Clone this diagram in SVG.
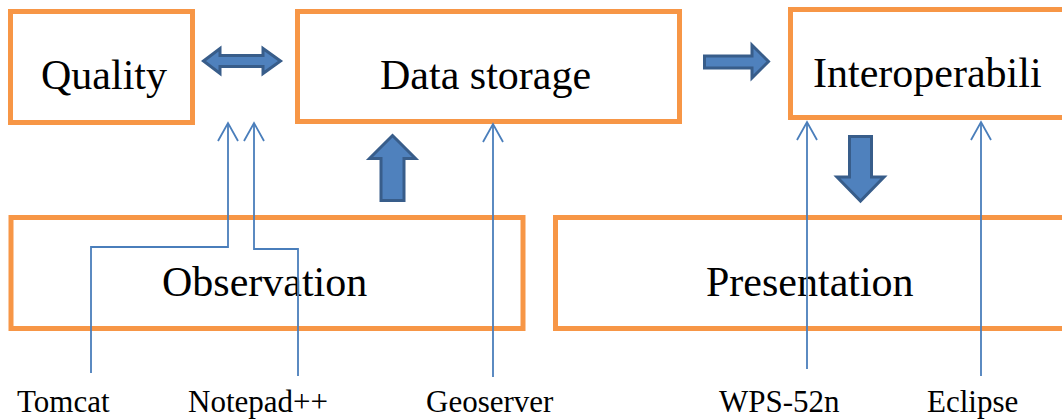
<svg xmlns="http://www.w3.org/2000/svg" width="1062" height="419" viewBox="0 0 1062 419">
  <style>
    .box { fill: #ffffff; stroke: #f79646; stroke-width: 5; }
    .label { font-family: 'Liberation Serif', 'Times New Roman', Times, 'DejaVu Serif', serif; font-size: 42px; fill: #000000; }
    .tool { font-family: 'Liberation Serif', 'Times New Roman', Times, 'DejaVu Serif', serif; font-size: 31px; fill: #000000; }
    .block { fill: #4f81bd; stroke: #385d8a; stroke-width: 3; stroke-linejoin: miter; }
    .link { fill: none; stroke: #4a7ebb; stroke-width: 1.8; }
  </style>
  <defs>
    <marker id="openArrow" markerUnits="userSpaceOnUse" markerWidth="22" markerHeight="24" viewBox="-20 -12 22 24" refX="0" refY="0" orient="auto" overflow="visible">
      <path d="M-18,-10 L0,0 L-18,10" fill="none" stroke="#4a7ebb" stroke-width="1.8"/>
    </marker>
  </defs>

  <rect width="1062" height="419" fill="#ffffff"/>

  <g id="quality">
    <rect class="box" x="10.5" y="11.5" width="182" height="111"/>
    <text class="label" x="41" y="89">Quality</text>
  </g>

  <g id="data-storage">
    <rect class="box" x="297.5" y="11.5" width="382" height="110"/>
    <text class="label" x="380" y="89">Data storage</text>
  </g>

  <g id="interoperability">
    <rect class="box" x="790.5" y="9.5" width="300" height="108"/>
    <text class="label" x="813" y="87">Interoperabili</text>
  </g>

  <g id="observation">
    <rect class="box" x="11" y="217.5" width="512" height="111"/>
    <text class="label" x="162" y="296">Observation</text>
  </g>

  <g id="presentation">
    <rect class="box" x="555.5" y="217.5" width="520" height="111"/>
    <text class="label" x="706" y="296">Presentation</text>
  </g>

  <g id="tools">
    <text class="tool" x="17" y="412">Tomcat</text>
    <text class="tool" x="188" y="412">Notepad++</text>
    <text class="tool" x="426" y="412">Geoserver</text>
    <text class="tool" x="719" y="412">WPS-52n</text>
    <text class="tool" x="927" y="412">Eclipse</text>
  </g>

  <g id="connectors">
    <!-- block arrows between layers -->
    <path class="block" d="M203.5,61 L220,48.5 L220,55.5 L263,55.5 L263,48.5 L280.5,61 L263,73.5 L263,66.5 L220,66.5 L220,73.5 Z"/>
    <path class="block" d="M704.5,56 L752,56 L752,45 L768.5,61.5 L752,78 L752,68 L704.5,68 Z"/>
    <path class="block" d="M392.5,135.5 L415.5,158.5 L404,158.5 L404,200.5 L381,200.5 L381,158.5 L369.5,158.5 Z"/>
    <path class="block" d="M849.5,136.5 L871.5,136.5 L871.5,177 L884,177 L860.5,201 L837,177 L849.5,177 Z"/>

    <!-- tool links -->
    <path class="link" d="M91,373 V247 H228 V123" marker-end="url(#openArrow)"/>
    <path class="link" d="M298,376 V249 H254 V123" marker-end="url(#openArrow)"/>
    <path class="link" d="M493,377 V124" marker-end="url(#openArrow)"/>
    <path class="link" d="M807,369 V122" marker-end="url(#openArrow)"/>
    <path class="link" d="M981,376 V122" marker-end="url(#openArrow)"/>
  </g>
</svg>
